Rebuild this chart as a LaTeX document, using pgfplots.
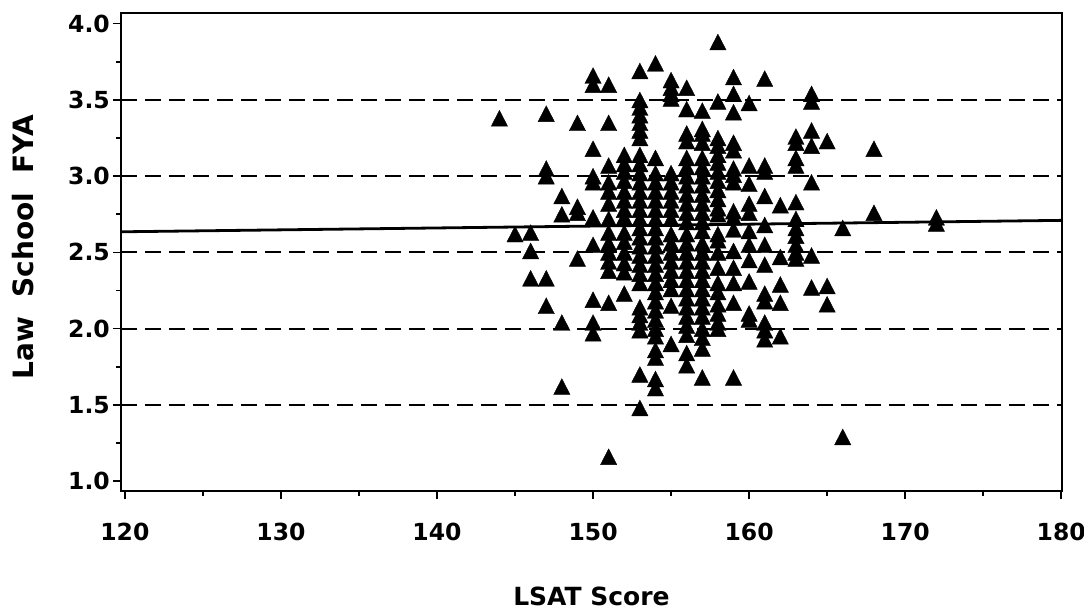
\documentclass[border=0pt]{standalone}
\usepackage{fontspec}
\setmainfont{DejaVu Sans}
\usepackage{pgfplots}
\pgfplotsset{compat=1.18}
\begin{document}
\begin{tikzpicture}
\begin{axis}[
  scale only axis, width=941pt, height=478pt,
  xmin=119.75, xmax=180.05, ymin=0.935, ymax=4.07,
  axis line style={line width=2pt},
  tick pos=left, tick align=outside,
  xtick={120,130,...,180}, minor xtick={125,135,...,175},
  ytick={1,1.5,2,2.5,3,3.5,4}, minor ytick={1.25,1.75,2.25,2.75,3.25,3.75},
  major tick length=8pt, minor tick length=5pt,
  every tick/.style={black, line width=1.6pt},
  /pgf/number format/assume math mode=true,
  xticklabel style={font=\bfseries\fontsize{23.5}{25}\selectfont, /pgf/number format/1000 sep={}, anchor=north, inner sep=0pt, yshift=-24pt},
  yticklabel style={font=\bfseries\fontsize{23.5}{25}\selectfont, /pgf/number format/fixed, /pgf/number format/fixed zerofill, /pgf/number format/precision=1, anchor=east, inner sep=0pt, xshift=-3pt},
  extra y ticks={1.5,2,2.5,3,3.5}, extra y tick labels={},
  extra y tick style={major tick length=0pt, grid=major},
  major grid style={black, line width=1.9pt, dash pattern=on 16pt off 8pt},
  xlabel={LSAT Score},
  ylabel={Law\ \ School\ \ FYA},
  xlabel style={at={(axis description cs:0.5,-0.2197)}, anchor=center, font=\bfseries\fontsize{25}{28}\selectfont},
  ylabel style={at={(axis description cs:-0.1041,0.51)}, anchor=center, font=\bfseries\fontsize{28}{30}\selectfont},
  clip=false,
]
\addplot[black, line width=2.8pt, no marks] coordinates {(119.75,2.635) (180.05,2.71)};
\addplot[only marks, mark=triangle*, mark size=9.4pt, black,
  every mark/.append style={yscale=1.12, yshift=-2.4pt, fill=black}] coordinates {
(144,3.38)
(145,2.62)
(146,2.63) (146,2.51) (146,2.33)
(147,3.41) (147,3.05) (147,3.00) (147,2.33) (147,2.15)
(148,2.87) (148,2.75) (148,2.04) (148,1.62)
(149,3.35) (149,2.80) (149,2.76) (149,2.46)
(150,3.66) (150,3.60) (150,3.18) (150,3.00) (150,2.96) (150,2.73) (150,2.55) (150,2.19) (150,2.04) (150,1.97)
(151,3.60) (151,3.35) (151,3.07) (151,2.96) (151,2.90) (151,2.82) (151,2.72) (151,2.63) (151,2.56) (151,2.50) (151,2.44) (151,2.38) (151,2.17) (151,1.16)
(152,3.14) (152,3.08) (152,3.03) (152,2.97) (152,2.90) (152,2.84) (152,2.78) (152,2.73) (152,2.63) (152,2.57) (152,2.50) (152,2.43) (152,2.37) (152,2.23)
(153,3.69) (153,3.50) (153,3.45) (153,3.40) (153,3.35) (153,3.30) (153,3.25) (153,3.14) (153,3.08) (153,3.02) (153,2.96) (153,2.90) (153,2.84) (153,2.78) (153,2.72) (153,2.66) (153,2.60) (153,2.54) (153,2.48) (153,2.42) (153,2.36) (153,2.30) (153,2.14) (153,2.09) (153,2.04) (153,1.99) (153,1.70) (153,1.48)
(154,3.74) (154,3.12) (154,3.02) (154,2.96) (154,2.90) (154,2.84) (154,2.78) (154,2.72) (154,2.66) (154,2.60) (154,2.54) (154,2.48) (154,2.42) (154,2.36) (154,2.30) (154,2.24) (154,2.18) (154,2.12) (154,2.06) (154,2.00) (154,1.95) (154,1.86) (154,1.81) (154,1.67) (154,1.61)
(155,3.63) (155,3.58) (155,3.54) (155,3.51) (155,3.02) (155,2.96) (155,2.90) (155,2.84) (155,2.78) (155,2.72) (155,2.62) (155,2.56) (155,2.50) (155,2.44) (155,2.38) (155,2.32) (155,2.26) (155,2.15) (155,1.90)
(156,3.58) (156,3.44) (156,3.28) (156,3.23) (156,3.12) (156,3.06) (156,3.00) (156,2.94) (156,2.88) (156,2.82) (156,2.76) (156,2.70) (156,2.62) (156,2.56) (156,2.50) (156,2.44) (156,2.38) (156,2.32) (156,2.26) (156,2.20) (156,2.14) (156,2.08) (156,2.02) (156,1.96) (156,1.84) (156,1.76)
(157,3.43) (157,3.31) (157,3.28) (157,3.22) (157,3.12) (157,3.06) (157,3.00) (157,2.94) (157,2.88) (157,2.82) (157,2.76) (157,2.70) (157,2.64) (157,2.56) (157,2.50) (157,2.44) (157,2.38) (157,2.32) (157,2.26) (157,2.20) (157,2.14) (157,2.08) (157,2.00) (157,1.94) (157,1.87) (157,1.68)
(158,3.88) (158,3.49) (158,3.25) (158,3.20) (158,3.14) (158,3.09) (158,3.03) (158,2.97) (158,2.91) (158,2.85) (158,2.79) (158,2.75) (158,2.62) (158,2.58) (158,2.50) (158,2.40) (158,2.30) (158,2.24) (158,2.16) (158,2.10) (158,2.04) (158,2.00)
(159,3.65) (159,3.54) (159,3.42) (159,3.22) (159,3.17) (159,3.05) (159,3.01) (159,2.96) (159,2.77) (159,2.73) (159,2.65) (159,2.51) (159,2.40) (159,2.30) (159,2.17) (159,1.68)
(160,3.48) (160,3.07) (160,2.95) (160,2.82) (160,2.76) (160,2.64) (160,2.55) (160,2.45) (160,2.31) (160,2.10) (160,2.06)
(161,3.64) (161,3.07) (161,3.03) (161,2.87) (161,2.68) (161,2.55) (161,2.42) (161,2.23) (161,2.18) (161,2.04) (161,1.99) (161,1.93)
(162,2.81) (162,2.47) (162,2.29) (162,2.17) (162,1.95)
(163,3.26) (163,3.22) (163,3.12) (163,3.07) (163,2.83) (163,2.72) (163,2.66) (163,2.61) (163,2.55) (163,2.50) (163,2.46)
(164,3.54) (164,3.49) (164,3.30) (164,3.20) (164,2.96) (164,2.48) (164,2.27)
(165,3.23) (165,2.28) (165,2.16)
(166,2.66) (166,1.29)
(168,3.18) (168,2.76)
(172,2.73) (172,2.69)
};
\end{axis}
\pgfresetboundingbox
\path (current axis.south west) +(-121pt,-123pt) rectangle +(963pt,491pt);
\end{tikzpicture}
\end{document}
